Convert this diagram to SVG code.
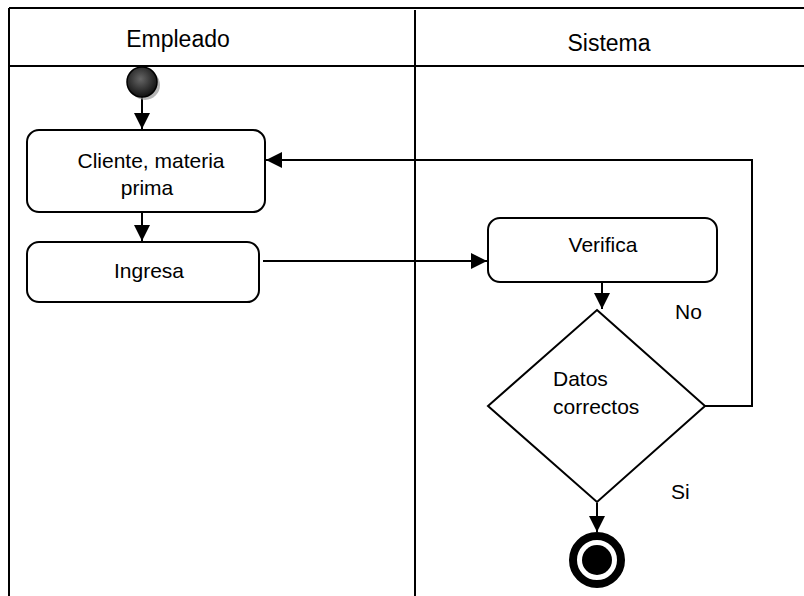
<svg xmlns="http://www.w3.org/2000/svg" width="804" height="596" viewBox="0 0 804 596">
<defs>
<style>
text{font-family:"Liberation Sans",Arial,sans-serif;font-size:21px;fill:#000;text-anchor:middle}
.hdr{font-size:23px}
.st{text-anchor:start}
.lane{stroke:#000;stroke-width:2;fill:none}
.box{fill:#fff;stroke:#000;stroke-width:2}
.conn{stroke:#000;stroke-width:2;fill:none}
</style>
<marker id="arrL" viewBox="0 0 10 10" refX="10" refY="5" markerWidth="16" markerHeight="16" markerUnits="userSpaceOnUse" orient="auto">
<path d="M0,0L10,5L0,10z" fill="#000"/>
</marker>
<radialGradient id="g" cx="0.45" cy="0.4" r="0.6">
<stop offset="0" stop-color="#666"/>
<stop offset="1" stop-color="#111"/>
</radialGradient>
</defs>
<g id="lanes">
<path class="lane" d="M9,8H804M9,66H804M9,8V596M415,10V596"/>
<text class="hdr" x="178" y="47">Empleado</text>
<text class="hdr" x="609" y="51">Sistema</text>
</g>
<g id="connectors">
<line class="conn" x1="142" y1="97" x2="142" y2="129" marker-end="url(#arrL)"/>
<line class="conn" x1="142" y1="212" x2="142" y2="241" marker-end="url(#arrL)"/>
<line class="conn" x1="263" y1="261" x2="487" y2="261" marker-end="url(#arrL)"/>
<line class="conn" x1="602" y1="282" x2="602" y2="309" marker-end="url(#arrL)"/>
<polyline class="conn" points="705,406 752,406 752,160 266,160" marker-end="url(#arrL)"/>
<line class="conn" x1="597" y1="503" x2="597" y2="532" marker-end="url(#arrL)"/>
</g>
<g id="start">
<circle cx="145" cy="85" r="15" fill="#999" opacity="0.7"/>
<circle cx="142" cy="82" r="15" fill="url(#g)" stroke="#000" stroke-width="1.5"/>
</g>
<g id="cliente">
<rect class="box" x="27" y="130" width="238" height="82" rx="12"/>
<text x="151" y="168">Cliente, materia</text>
<text x="147" y="195">prima</text>
</g>
<g id="ingresa">
<rect class="box" x="27" y="242" width="232" height="60" rx="12"/>
<text x="149" y="278">Ingresa</text>
</g>
<g id="verifica">
<rect class="box" x="488" y="218" width="229" height="64" rx="12"/>
<text x="603" y="252">Verifica</text>
</g>
<g id="decision">
<polygon class="box" points="597,310 705,406 597,502 488,406"/>
<text class="st" x="553" y="386">Datos</text>
<text class="st" x="553" y="414">correctos</text>
</g>
<g id="labels">
<text class="st" x="675" y="319">No</text>
<text class="st" x="671" y="499">Si</text>
</g>
<g id="end">
<circle cx="597" cy="560" r="24" fill="#fff" stroke="#000" stroke-width="8"/>
<circle cx="597" cy="560" r="15" fill="#000"/>
</g>
</svg>
